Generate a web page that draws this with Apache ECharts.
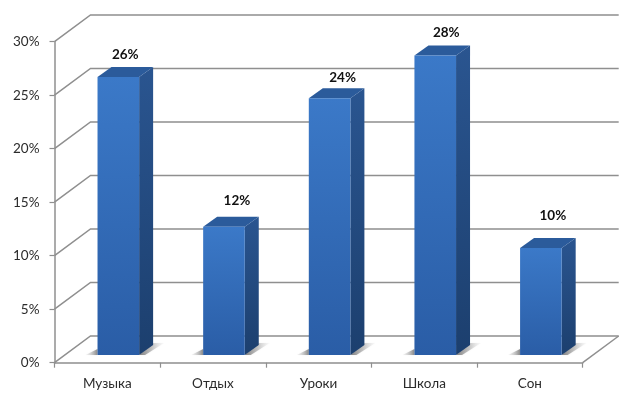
<!DOCTYPE html>
<html><head><meta charset="utf-8">
<style>html,body{margin:0;padding:0;background:#fff}#c{width:640px;height:406px}</style>
<script src="https://cdn.jsdelivr.net/npm/echarts@6/dist/echarts.min.js"></script>
</head><body><div id="c"></div>
<script>
const categories = ['Музыка','Отдых','Уроки','Школа','Сон'];
const values = [26,12,24,28,10];
const yTicks = [0,5,10,15,20,25,30];
const labelNudgeX = [0,6,6,4,5];
const labelNudgeY = [0,-4,1,-1,-10];
const wall = {dx:36, dy:-26.7};
const barD = {dx:14, dy:-10};
const barOff = {dx:11, dy:-7.6};
const barW = 41.6;
const lineCol = '#8f8f8f';
const font = 'Lato';
const chart = echarts.init(document.getElementById('c'));
chart.setOption({
  animation:false, backgroundColor:'#fff',
  grid:{left:54.5,right:57.3,top:41.7,bottom:43.3},
  xAxis:{type:'category',data:categories,boundaryGap:true,
    axisLine:{lineStyle:{color:lineCol,width:1.5}},
    axisTick:{show:true,length:5,inside:false,lineStyle:{color:lineCol,width:1.2}},
    axisLabel:{color:'#2b2b2b',fontFamily:font,fontSize:13.5,margin:14}},
  yAxis:{type:'value',min:0,max:30,interval:5,
    axisLine:{show:true,lineStyle:{color:lineCol,width:1.5}},
    axisTick:{show:true,length:5,lineStyle:{color:lineCol,width:1.2}},
    splitLine:{show:false},
    axisLabel:{color:'#2b2b2b',fontFamily:font,fontSize:13.5,margin:15,formatter:v=>v+'%'}},
  series:[
   {type:'custom',coordinateSystem:'cartesian2d',z:1,silent:true,clip:false,
    data:yTicks.map(v=>[0,v]),
    renderItem(params,api){
      const cs=params.coordSys, y=api.coord([0,api.value(1)])[1];
      const left=cs.x, right=cs.x+cs.width;
      const kids=[{type:'polyline',shape:{points:[[left,y],[left+wall.dx,y+wall.dy],[right+wall.dx,y+wall.dy]]},
        style:{stroke:lineCol,lineWidth:1.5,fill:null}}];
      if(api.value(1)===0) kids.push({type:'line',shape:{x1:right,y1:y,x2:right+wall.dx,y2:y+wall.dy},style:{stroke:lineCol,lineWidth:1.5}});
      return {type:'group',children:kids};
    }},
   {type:'custom',coordinateSystem:'cartesian2d',z:3,silent:true,clip:false,
    data:values.map((v,i)=>[i,v]),
    renderItem(params,api){
      const i=api.value(0);
      const c=api.coord([i,api.value(1)]), b=api.coord([i,0]);
      const xl=c[0]-barW/2+barOff.dx, xr=xl+barW, yt=c[1]+barOff.dy, yb=b[1]+barOff.dy;
      const d=barD;
      return {type:'group',children:[
        {type:'polygon',shape:{points:[[xr,yb],[xr+d.dx,yb-12],[xr+25,yb-12],[xr+6,yb]]},
          style:{fill:{type:'linear',x:0,y:0,x2:1,y2:0,colorStops:[{offset:0,color:'rgba(105,105,105,0.85)'},{offset:.5,color:'rgba(150,150,150,0.55)'},{offset:1,color:'rgba(225,225,225,0.15)'}]},shadowBlur:2,shadowColor:'rgba(200,200,200,0.4)'}},
        {type:'polygon',shape:{points:[[xl-12,yb],[xl,yb],[xl,yb-6]]},
          style:{fill:{type:'linear',x:0,y:0,x2:1,y2:0,colorStops:[{offset:0,color:'rgba(210,210,210,0.2)'},{offset:1,color:'rgba(110,110,110,0.8)'}]},shadowBlur:2,shadowColor:'rgba(200,200,200,0.4)'}},
        {type:'polygon',shape:{points:[[xr,yt],[xr+d.dx,yt+d.dy],[xr+d.dx,yb+d.dy],[xr,yb]]},
          style:{fill:{type:'linear',x:0,y:0,x2:0,y2:1,colorStops:[{offset:0,color:'#2a5590'},{offset:1,color:'#1c3f6e'}]}}},
        {type:'polygon',shape:{points:[[xl,yt],[xl+d.dx,yt+d.dy],[xr+d.dx,yt+d.dy],[xr,yt]]},
          style:{fill:'#2b5b9b'}},
        {type:'rect',shape:{x:xl,y:yt,width:barW,height:yb-yt},
          style:{fill:{type:'linear',x:0,y:0,x2:0,y2:1,colorStops:[{offset:0,color:'#3b79c8'},{offset:1,color:'#2a5da6'}]}}},
        {type:'text',style:{text:api.value(1)+'%',x:xl+(barW+d.dx)/2+labelNudgeX[i],y:yt+d.dy-12+labelNudgeY[i],align:'center',verticalAlign:'middle',
          fontFamily:font,fontWeight:'bold',fontSize:13.5,fill:'#111'}}
      ]};
    }}
  ]
});
</script></body></html>
